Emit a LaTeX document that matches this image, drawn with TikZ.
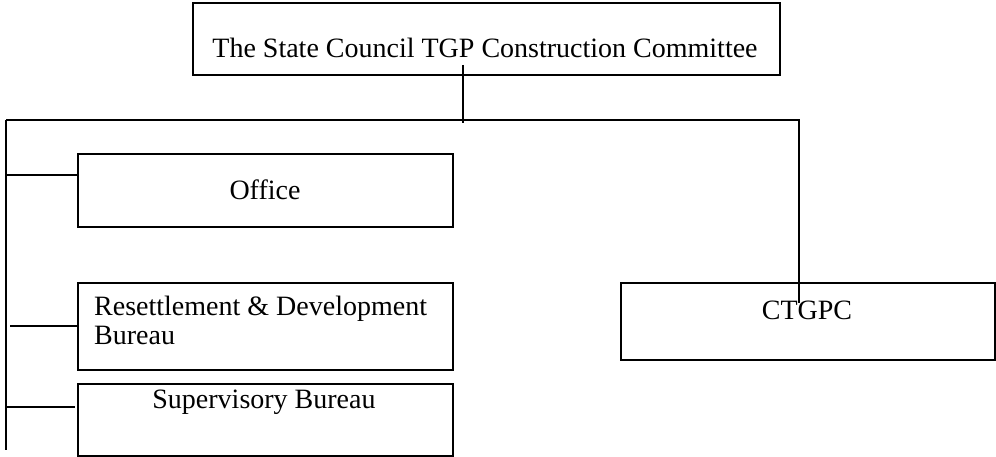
\documentclass[tikz,border=0pt]{standalone}
\usepackage{fontspec}
\setmainfont{Liberation Serif}
\begin{document}
\begin{tikzpicture}[x=1pt,y=-1pt,
  box/.style={draw,line width=1.3pt,inner sep=0pt,outer sep=0pt},
  txt/.style={inner sep=0pt,font=\fontsize{28}{30}\selectfont},
  conn/.style={line width=1.3pt}]
\useasboundingbox (0,0) rectangle (996,457);
% boxes
\node[box,minimum width=587,minimum height=72] (top) at (486.5,39) {};
\node[txt] (toptxt) at (485,48) {The State Council TGP Construction Committee};
\node[box,minimum width=375,minimum height=73] (office) at (265.5,190.5) {};
\node[txt] (officetxt) at (265,190) {Office};
\node[box,minimum width=375,minimum height=87] (reset) at (265.5,326.5) {};
\node[txt,anchor=west,align=left] (resettxt) at (94,320) {Resettlement \& Development\\[-1pt]Bureau};
\node[box,minimum width=375,minimum height=72] (sup) at (265.5,420) {};
\node[txt] (suptxt) at (264,402) {Supervisory Bureau};
\node[box,minimum width=374,minimum height=77] (ctgpc) at (808,321.5) {};
\node[txt] (ctgpctxt) at (807,310) {CTGPC};
% connector points
\coordinate (topdrop) at (463,65);
\coordinate (busmid) at (463,123);
\coordinate (busL) at (6,120);
\coordinate (busR) at (800,120);
\coordinate (leftbot) at (6,450);
\coordinate (offL) at (6,175);
\coordinate (resL) at (10,326);
\coordinate (supL) at (6,407);
\coordinate (ctgTop) at (799,120);
\coordinate (ctgEnd) at (799,303);
% connectors
\draw[conn] (topdrop) -- (busmid);
\draw[conn] (busL) -- (busR);
\draw[conn] (busL) -- (leftbot);
\draw[conn] (offL) -- (office.west |- offL);
\draw[conn] (resL) -- (reset.west |- resL);
\draw[conn] (supL) -- ([xshift=-3pt]sup.west |- supL);
\draw[conn] (ctgTop) -- (ctgEnd);
\end{tikzpicture}
\end{document}
